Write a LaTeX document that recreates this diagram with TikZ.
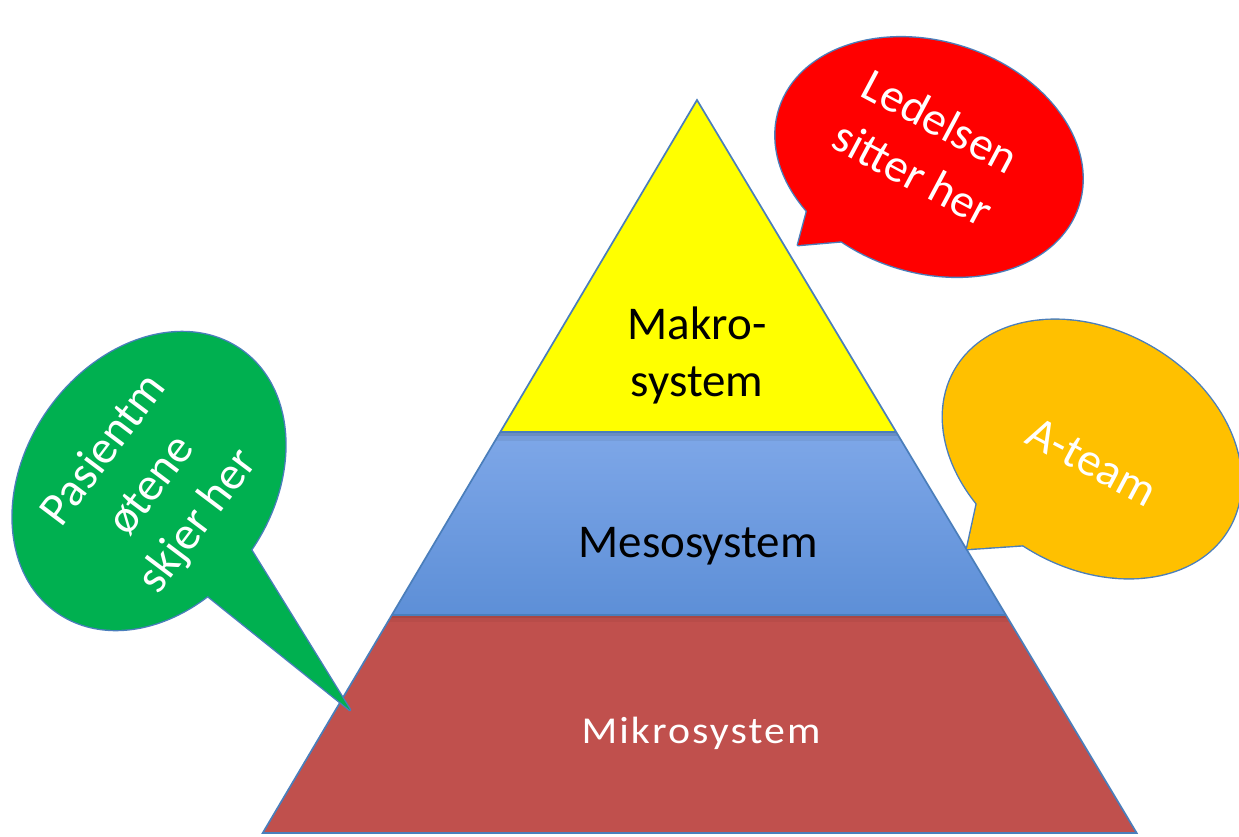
\documentclass[tikz,border=0pt]{standalone}
\usepackage{fontspec}
\setmainfont{Carlito}
\definecolor{outl}{RGB}{74,126,187}
\definecolor{pyyellow}{RGB}{255,255,0}
\definecolor{bluetop}{RGB}{126,167,232}
\definecolor{bluebot}{RGB}{93,143,215}
\definecolor{mikrored}{RGB}{192,80,77}
\definecolor{bubred}{RGB}{255,0,0}
\definecolor{buborange}{RGB}{255,192,0}
\definecolor{bubgreen}{RGB}{0,176,80}
\begin{document}
\begin{tikzpicture}[x=1pt,y=-1pt,
  layer/.style={draw=outl, line width=1.7pt, line join=miter},
  lbl/.style={font=\fontsize{47}{57}\selectfont, align=center, inner sep=0pt},
  btxt/.style={font=\fontsize{47}{59}\selectfont, align=center, inner sep=0pt, text=white},
  bout/.style={draw=outl, line width=2.8pt, line join=round},
]
\useasboundingbox (0,0) rectangle (1239,836);
\fill[white] (0,0) rectangle (1239,836);

% pyramid corners
\coordinate (apex) at (697,100);
\coordinate (l1) at (500.3,432);
\coordinate (r1) at (896.2,432);
\coordinate (l2) at (391.9,615);
\coordinate (r2) at (1006,615);
\coordinate (bl) at (262.7,833);
\coordinate (br) at (1136.7,833);

% layers
\fill[mikrored] (l2) -- (r2) -- (br) -- (bl) -- cycle;
\shade[top color=bluetop, bottom color=bluebot] (l1) -- (r1) -- (r2) -- (l2) -- cycle;
\begin{scope}
  \clip (l1) -- (r1) -- (r2) -- (l2) -- cycle;
  \fill[black, opacity=0.10] (380,432) rectangle (1010,436);
  \fill[black, opacity=0.06] (380,432) rectangle (1010,441);
\end{scope}
\begin{scope}
  \clip (l2) -- (r2) -- (br) -- (bl) -- cycle;
  \fill[black, opacity=0.08] (250,615) rectangle (1150,618);
  \fill[black, opacity=0.04] (250,615) rectangle (1150,622);
\end{scope}
\fill[pyyellow] (apex) -- (r1) -- (l1) -- cycle;
\draw[layer] (l1) -- (r1);
\draw[layer] (l2) -- (r2);
\draw[layer] (apex) -- (br) -- (bl) -- cycle;

% pyramid labels
\node[lbl] (makro) at (697,355) {Makro-\\system};
\node[lbl, anchor=base] (meso) at (698,557) {Mesosystem};
\node[inner sep=0pt, anchor=base, text=white, font=\fontsize{38}{44}\selectfont] (mikro) at (701,743) {\scalebox{1.1}[1]{\addfontfeatures{LetterSpace=5}Mikrosystem}};

% red bubble
\coordinate (rc) at (929,157);
\coordinate (rtip) at (798,245);
\coordinate (rb1) at (816,178);
\coordinate (rb2) at (890,237);
\draw[bout, rotate around={-18:(rc)}] (rc) ellipse [x radius=157, y radius=115];
\draw[bout] (rb1) -- (rtip) -- (rb2) -- cycle;
\fill[bubred, rotate around={-18:(rc)}] (rc) ellipse [x radius=157, y radius=115];
\fill[bubred] (rb1) -- (rtip) -- (rb2) -- cycle;
\node[btxt, rotate=-28] (tred) at (927,147) {Ledelsen\\sitter her};

% orange bubble
\coordinate (oc) at (1092,449);
\coordinate (otip) at (967,549);
\coordinate (ob1) at (979,494);
\coordinate (ob2) at (1040,544);
\draw[bout, rotate around={-30:(oc)}] (oc) ellipse [x radius=158, y radius=118];
\draw[bout] (ob1) -- (otip) -- (ob2) -- cycle;
\fill[buborange, rotate around={-30:(oc)}] (oc) ellipse [x radius=158, y radius=118];
\fill[buborange] (ob1) -- (otip) -- (ob2) -- cycle;
\node[btxt, rotate=-28] (torange) at (1092,462) {A-team};

% green bubble
\coordinate (gc) at (149,481);
\coordinate (gtip) at (350,710);
\coordinate (gb1) at (235,524);
\coordinate (gb2) at (178,572);
\draw[bout, rotate around={55:(gc)}] (gc) ellipse [x radius=160, y radius=123];
\draw[bout] (gb1) -- (gtip) -- (gb2) -- cycle;
\fill[bubgreen, rotate around={55:(gc)}] (gc) ellipse [x radius=160, y radius=123];
\fill[bubgreen] (gb1) -- (gtip) -- (gb2) -- cycle;
\node[btxt, rotate=53] (tgreen) at (152,486) {Pasientm\\øtene\\skjer her};
\end{tikzpicture}
\end{document}
